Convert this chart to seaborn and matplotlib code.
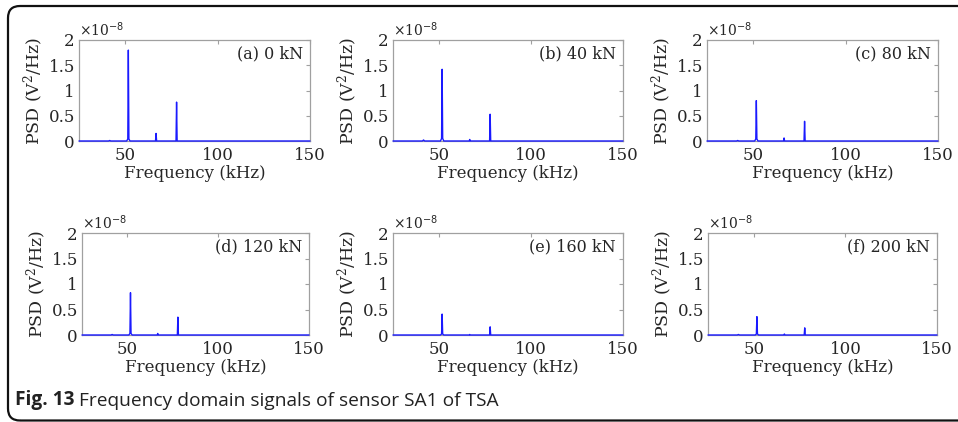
import matplotlib
matplotlib.use("Agg")
import matplotlib.pyplot as plt
import seaborn as sns
import pandas as pd
from matplotlib.patches import FancyBboxPatch

# ---- data (PSD in units of 1e-8 V^2/Hz) ----
freq_khz = [25, 41.0, 41.6, 42.2, 50.8, 51.4, 51.7, 52.0, 52.6,
            66.4, 66.7, 67.0, 77.5, 77.8, 78.1, 88.0, 150]
psd_a = [0, 0, 0.01, 0, 0, 0.04, 1.80, 0.04, 0, 0, 0.15, 0, 0, 0.77, 0, 0, 0]
psd_b = [0, 0, 0.02, 0, 0, 0.05, 1.42, 0.05, 0, 0, 0.03, 0, 0, 0.53, 0, 0, 0]
psd_c = [0, 0, 0.01, 0, 0, 0.04, 0.80, 0.04, 0, 0, 0.06, 0, 0, 0.39, 0, 0, 0]
psd_d = [0, 0, 0.01, 0, 0, 0.03, 0.83, 0.03, 0, 0, 0.03, 0, 0, 0.35, 0, 0, 0]
psd_e = [0, 0, 0.00, 0, 0, 0.02, 0.41, 0.02, 0, 0, 0.01, 0, 0, 0.16, 0, 0, 0]
psd_f = [0, 0, 0.01, 0, 0, 0.02, 0.36, 0.02, 0, 0, 0.02, 0, 0, 0.14, 0, 0, 0]
panel_labels = ["(a) 0 kN", "(b) 40 kN", "(c) 80 kN",
                "(d) 120 kN", "(e) 160 kN", "(f) 200 kN"]
series = [psd_a, psd_b, psd_c, psd_d, psd_e, psd_f]
x_ticks = [50, 100, 150]
y_ticks = [0, 0.5, 1, 1.5, 2]
y_ticklabels = ["0", "0.5", "1", "1.5", "2"]
caption_bold = "Fig. 13"
caption_rest = " Frequency domain signals of sensor SA1 of TSA"

sns.set_style("white")
plt.rcParams["font.family"] = ["DejaVu Serif"]
plt.rcParams["mathtext.fontset"] = "dejavuserif"

W, H = 958, 422
fig = plt.figure(figsize=(W / 100, H / 100), dpi=100)

# axes boxes in pixels: left, right, top, bottom
boxes = [(79, 310, 40, 141), (393, 623, 40, 141), (707, 938, 40, 141),
         (82, 309, 233, 335), (393, 623, 233, 335), (708, 937, 233, 335)]

tick_col = "#262626"
spine_col = "#a0a0a0"
for (l, r, t, b), vals, lab in zip(boxes, series, panel_labels):
    ax = fig.add_axes([l / W, 1 - b / H, (r - l) / W, (b - t) / H])
    df = pd.DataFrame({"f": freq_khz, "p": vals})
    sns.lineplot(data=df, x="f", y="p", ax=ax, color="#1a1aff", lw=1.0,
                 estimator=None, sort=False, clip_on=False, zorder=5)
    ax.set_xlim(25, 150)
    ax.set_ylim(0, 2)
    ax.set_xticks(x_ticks)
    ax.set_yticks(y_ticks)
    ax.set_yticklabels(y_ticklabels)
    ax.tick_params(direction="in", length=3, width=0.8, color=spine_col,
                   labelcolor=tick_col, labelsize=12, top=True, right=True,
                   pad=4)
    ax.tick_params(axis="y", pad=3)
    for s in ax.spines.values():
        s.set_color(spine_col)
        s.set_linewidth(0.9)
    ax.set_xlabel("Frequency (kHz)", fontsize=12, color=tick_col, labelpad=1)
    ax.set_ylabel("PSD (V$^2$/Hz)", fontsize=12.5, color=tick_col, labelpad=2)
    ax.text(0.97, 0.86, lab, transform=ax.transAxes, ha="right", va="center",
            fontsize=11.5, color=tick_col)
    ax.text(0.0, 1.01, r"$\times$10$^{\mathsf{-8}}$", transform=ax.transAxes,
            ha="left", va="bottom", fontsize=10, color=tick_col)

# caption
cap_font = ["Open Sans", "DejaVu Sans"]
t1 = fig.text(15 / W, 1 - 410 / H, caption_bold, fontsize=13.8,
              fontweight="bold", family=cap_font, color="#222222",
              ha="left", va="bottom")
fig.axes[0].annotate(caption_rest, xy=(1, 0), xycoords=t1, ha="left",
                     va="bottom", fontsize=13.8, family=cap_font,
                     color="#222222", annotation_clip=False)

# rounded frame (extends past the right edge)
frame = FancyBboxPatch((0.08, 0.015), 10.2, 4.145,
                       boxstyle="round,pad=0,rounding_size=0.12",
                       transform=fig.dpi_scale_trans, fill=False,
                       edgecolor="#111111", lw=1.6, clip_on=False)
fig.patches.append(frame)

fig.savefig("out.png", dpi=100)
